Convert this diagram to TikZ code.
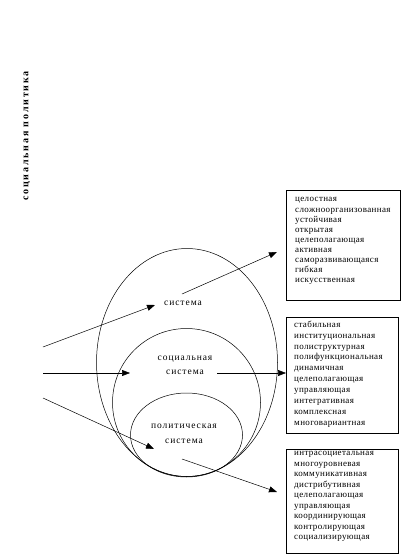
\documentclass[tikz,border=0pt]{standalone}
\usepackage{fontspec}
\setmainfont{Liberation Serif}
\newfontfamily\titlefont[LetterSpace=18]{Liberation Serif}
\newfontfamily\lblfont[LetterSpace=10]{Liberation Serif}
\newfontfamily\listfont[LetterSpace=4]{Liberation Serif}
\usetikzlibrary{arrows.meta}
\begin{document}
\begin{tikzpicture}[x=1pt,y=-1pt,
  conn/.style={-{Triangle[length=8pt,width=6pt]}, line width=0.5pt},
  ring/.style={draw, line width=0.5pt},
  listbox/.style={draw, line width=0.7pt, anchor=north west, inner sep=0pt},
  listtext/.style={anchor=north west, align=left, inner sep=0pt},
  lbl/.style={align=center, inner sep=0pt, font=\lblfont\fontsize{9.5}{14.5}\selectfont}]
\useasboundingbox (0,0) rectangle (402,555);
% title
\node[rotate=90, inner sep=0pt, font=\titlefont\bfseries\fontsize{10}{12}\selectfont] (title) at (27,136) {социальная политика};
% ellipses
\draw[ring] (187,362.5) ellipse [x radius=90.5, y radius=114];
\draw[ring] (186.5,402.5) ellipse [x radius=74, y radius=74];
\draw[ring] (186.5,435) ellipse [x radius=56, y radius=42];
% labels
\node[lbl] (sys) at (183,303) {система};
\node[lbl] (soc) at (185,365.5) {социальная\\система};
\node[lbl] (pol) at (184,434) {политическая\\система};
% boxes
\node[listbox, minimum width=114, minimum height=110] (b1) at (286,190) {};
\node[listbox, minimum width=112, minimum height=116] (b2) at (286,316.5) {};
\node[listbox, minimum width=112, minimum height=104] (b3) at (285.7,449) {};
\node[listtext, font=\listfont\fontsize{9}{10.1}\selectfont] (t1) at (295,197.5) {целостная\\сложноорганизованная\\устойчивая\\открытая\\целеполагающая\\активная\\саморазвивающаяся\\гибкая\\искусственная};
\node[listtext, font=\listfont\fontsize{9}{10.95}\selectfont] (t2) at (294,320.5) {стабильная\\институциональная\\полиструктурная\\полифункциональная\\динамичная\\целеполагающая\\управляющая\\интегративная\\комплексная\\многовариантная};
\node[listtext, font=\listfont\fontsize{9}{10.5}\selectfont] (t3) at (294,451.5) {интрасоциетальная\\многоуровневая\\коммуникативная\\дистрибутивная\\целеполагающая\\управляющая\\координирующая\\контролирующая\\социализирующая};
% arrow endpoints
\coordinate (s1) at (43,347);  \coordinate (e1) at (155,305);
\coordinate (s2) at (43,373);  \coordinate (e2) at (130,373);
\coordinate (s3) at (43,398);  \coordinate (e3) at (154,449);
\coordinate (s4) at (182,294); \coordinate (e4) at (277,252);
\coordinate (s5) at (217,373); \coordinate (e5) at (b2.west|-s5);
\coordinate (s6) at (182,459); \coordinate (e6) at (277,492);
\draw[conn] (s1) -- (e1);
\draw[conn] (s2) -- (e2);
\draw[conn] (s3) -- (e3);
\draw[conn] (s4) -- (e4);
\draw[conn] (s5) -- (e5);
\draw[conn] (s6) -- (e6);
\end{tikzpicture}
\end{document}
